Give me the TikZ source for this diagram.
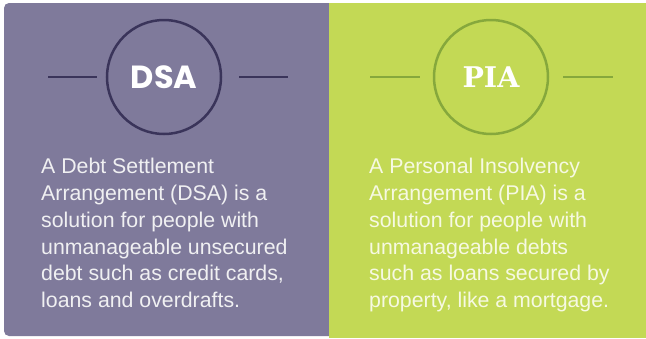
\documentclass[tikz,border=0pt]{standalone}
\usepackage{fontspec}
\setmainfont{Liberation Sans}
\newfontfamily\dsafont{Poppins}
\newfontfamily\piafont{DejaVu Serif}
\usepackage{xcolor}
\definecolor{purp}{HTML}{7F7A9B}
\definecolor{purpdark}{HTML}{3A345A}
\definecolor{lime}{HTML}{C3D955}
\definecolor{limedark}{HTML}{86A83C}
\definecolor{purptext}{HTML}{F0F0F2}
\definecolor{limetext}{HTML}{F6F9E2}

\begin{document}
\begin{tikzpicture}[x=1pt,y=-1pt]
\tikzset{badge/.style = {shape=circle,draw,line width=2.5pt,minimum size=114pt,inner sep=0pt,text=white}}
\tikzset{rule/.style = {-,line width=2pt}}
\tikzset{blurb/.style = {anchor=north west,inner sep=0pt,align=left,
	font=\fontsize{21.3}{26.8}\selectfont}}
\useasboundingbox (0,0) rectangle (646,338);
% panels
\fill[white] (0,0) rectangle (646,338);
\fill[purp,rounded corners=5pt] (336,3) -- (4,3) -- (4,336) -- (336,336);
\fill[lime] (329,3) rectangle (646,338);

% badges
\node[badge,draw=purpdark] (dsa) at (164,77) {\dsafont\bfseries\fontsize{32}{32}\selectfont DSA};
\node[badge,draw=limedark] (pia) at (491,77) {\piafont\bfseries\fontsize{28.5}{28.5}\selectfont PIA};

% rule ends
\coordinate (dsa1) at (48,77);
\coordinate (dsa2) at (97,77);
\coordinate (dsa3) at (239,77);
\coordinate (dsa4) at (288,77);
\coordinate (pia1) at (370,77);
\coordinate (pia2) at (420,77);
\coordinate (pia3) at (563,77);
\coordinate (pia4) at (613,77);

%rules
\draw[rule,purpdark] (dsa1) to (dsa2);
\draw[rule,purpdark] (dsa3) to (dsa4);
\draw[rule,limedark] (pia1) to (pia2);
\draw[rule,limedark] (pia3) to (pia4);

% texts
\node[blurb,text=purptext] (dsatext) at (41,158) {A Debt Settlement\\Arrangement (DSA) is a\\solution for people with\\unmanageable unsecured\\debt such as credit cards,\\loans and overdrafts.};
\node[blurb,text=limetext] (piatext) at (369,158) {A Personal Insolvency\\Arrangement (PIA) is a\\solution for people with\\unmanageable debts\\such as loans secured by\\property, like a mortgage.};
\end{tikzpicture}
\end{document}
